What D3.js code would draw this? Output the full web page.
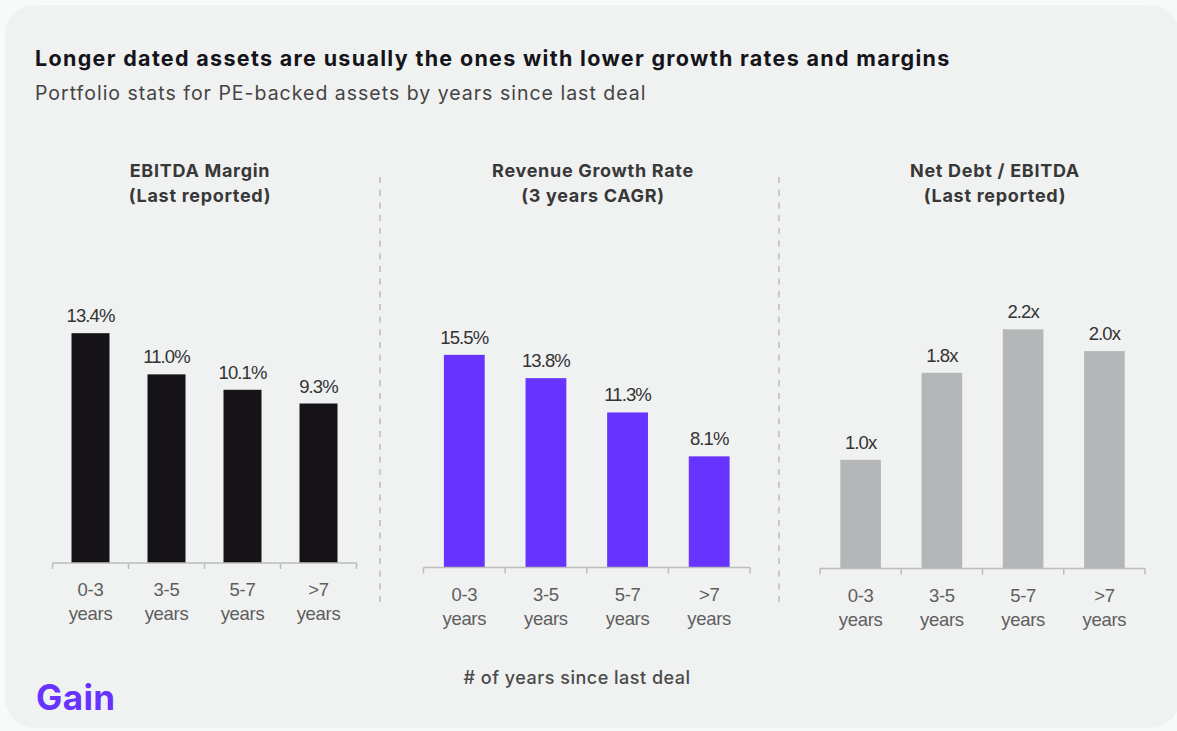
<!DOCTYPE html>
<html>
<head>
<meta charset="utf-8">
<script src="https://cdn.jsdelivr.net/npm/d3@7/dist/d3.min.js"></script>
<style>
  html, body { margin: 0; padding: 0; background: #f8f9f9; }
  svg { display: block; }
</style>
</head>
<body>
<svg id="chart" width="1177" height="731"></svg>
<script>
// Categories shared by all three panels
const categories = ["0-3 years", "3-5 years", "5-7 years", ">7 years"];

// Panel values
const ebitdaMargin = [13.4, 11.0, 10.1, 9.3];
const revenueGrowth = [15.5, 13.8, 11.3, 8.1];
const netDebtEbitda = [1.0, 1.8, 2.2, 2.0];

// Panel headings
const ebitdaTitle = ["EBITDA Margin", "(Last reported)"];
const growthTitle = ["Revenue Growth Rate", "(3 years CAGR)"];
const debtTitle = ["Net Debt / EBITDA", "(Last reported)"];

const title = "Longer dated assets are usually the ones with lower growth rates and margins";
const subtitle = "Portfolio stats for PE-backed assets by years since last deal";
const xAxisTitle = "# of years since last deal";

const svg = d3.select("#chart");

// Card background
svg.append("rect")
  .attr("x", 5).attr("y", 5)
  .attr("width", 1175).attr("height", 723)
  .attr("rx", 30).attr("ry", 30)
  .attr("fill", "#f0f1f1");

const sans = "Inter, 'Noto Sans', sans-serif";
const numFont = "'Liberation Sans', Arial, sans-serif";

svg.append("text")
  .attr("x", 35).attr("y", 66)
  .attr("font-family", sans).attr("font-weight", 700)
  .attr("font-size", 21.5).attr("letter-spacing", 1.32)
  .attr("fill", "#15141a")
  .text(title);

svg.append("text")
  .attr("x", 35).attr("y", 100)
  .attr("font-family", sans).attr("font-weight", 400)
  .attr("font-size", 19.5).attr("letter-spacing", 1.0)
  .attr("fill", "#444")
  .text(subtitle);

const panels = [
  { values: ebitdaMargin, heading: ebitdaTitle, color: "#151318",
    x0: 52.5, x1: 356.5, base: 563, perUnit: 17.15, fmt: d => d.toFixed(1) + "%", tcx: 200 },
  { values: revenueGrowth, heading: growthTitle, color: "#6633ff",
    x0: 423.5, x1: 750, base: 567.5, perUnit: 13.72, fmt: d => d.toFixed(1) + "%", tcx: 593 },
  { values: netDebtEbitda, heading: debtTitle, color: "#b5b6b8",
    x0: 820, x1: 1145, base: 568.5, perUnit: 108.7, fmt: d => d.toFixed(1) + "x", tcx: 995 }
];

panels.forEach(p => {
  const g = svg.append("g");
  const x = d3.scaleBand().domain(categories).range([p.x0, p.x1]).padding(0.5).paddingOuter(0.25);
  const maxV = d3.max(p.values);
  const y = d3.scaleLinear().domain([0, maxV]).range([p.base, p.base - maxV * p.perUnit]);

  // heading
  g.append("text")
    .attr("x", p.tcx).attr("y", 177)
    .attr("text-anchor", "middle")
    .attr("font-family", sans).attr("font-weight", 700)
    .attr("font-size", 18).attr("letter-spacing", 0.7)
    .attr("fill", "#383838")
    .selectAll("tspan").data(p.heading).join("tspan")
    .attr("x", p.tcx).attr("dy", (d, i) => i === 0 ? 0 : 25)
    .text(d => d);

  // bars
  g.selectAll("rect.bar").data(p.values).join("rect")
    .attr("class", "bar")
    .attr("x", (d, i) => x(categories[i]))
    .attr("width", x.bandwidth())
    .attr("y", d => y(d))
    .attr("height", d => y(0) - y(d))
    .attr("fill", p.color);

  // value labels
  g.selectAll("text.val").data(p.values).join("text")
    .attr("class", "val")
    .attr("x", (d, i) => x(categories[i]) + x.bandwidth() / 2)
    .attr("y", d => y(d) - 11)
    .attr("text-anchor", "middle")
    .attr("font-family", numFont).attr("font-size", 18.5)
    .attr("letter-spacing", -0.9)
    .attr("fill", "#333")
    .text(d => p.fmt(d));

  // category axis with boundary ticks
  const axis = d3.axisBottom(x).tickSize(0).tickFormat("");
  const ag = g.append("g").attr("transform", `translate(0,${p.base})`).call(axis);
  ag.select(".domain").remove();
  ag.append("line")
    .attr("x1", p.x0).attr("x2", p.x1)
    .attr("stroke", "#bdbdbd").attr("stroke-width", 1.5);
  const step = x.step();
  const edges = d3.range(categories.length + 1).map(i => p.x0 + i * step);
  ag.selectAll("line.edge").data(edges).join("line")
    .attr("class", "edge")
    .attr("x1", d => d).attr("x2", d => d)
    .attr("y1", 0).attr("y2", 6)
    .attr("stroke", "#bdbdbd").attr("stroke-width", 1.5);

  const lbl = ag.selectAll("text.cat").data(categories).join("text")
    .attr("class", "cat")
    .attr("text-anchor", "middle")
    .attr("font-family", numFont).attr("font-size", 18.5)
    .attr("letter-spacing", -0.3)
    .attr("fill", "#5e5e5e");
  lbl.each(function(d) {
    const parts = d.split(" ");
    const cx = x(d) + x.bandwidth() / 2;
    d3.select(this).selectAll("tspan").data(parts).join("tspan")
      .attr("x", cx)
      .attr("y", (t, i) => 33 + i * 24)
      .text(t => t);
  });
});

// dashed dividers between panels
[380, 779].forEach(xp => {
  svg.append("line")
    .attr("x1", xp).attr("x2", xp)
    .attr("y1", 177).attr("y2", 604)
    .attr("stroke", "#bbbbbb").attr("stroke-width", 1.5)
    .attr("stroke-dasharray", "6,6.7");
});

svg.append("text")
  .attr("x", 577).attr("y", 684)
  .attr("text-anchor", "middle")
  .attr("font-family", sans).attr("font-weight", 500)
  .attr("font-size", 18).attr("letter-spacing", 0.5)
  .attr("fill", "#4a4a4a")
  .text(xAxisTitle);

// brand mark
svg.append("text")
  .attr("x", 36).attr("y", 710)
  .attr("font-family", sans).attr("font-weight", 700)
  .attr("font-size", 35).attr("letter-spacing", 0.4)
  .attr("fill", "#6633ff")
  .text("Gain");
</script>
</body>
</html>
